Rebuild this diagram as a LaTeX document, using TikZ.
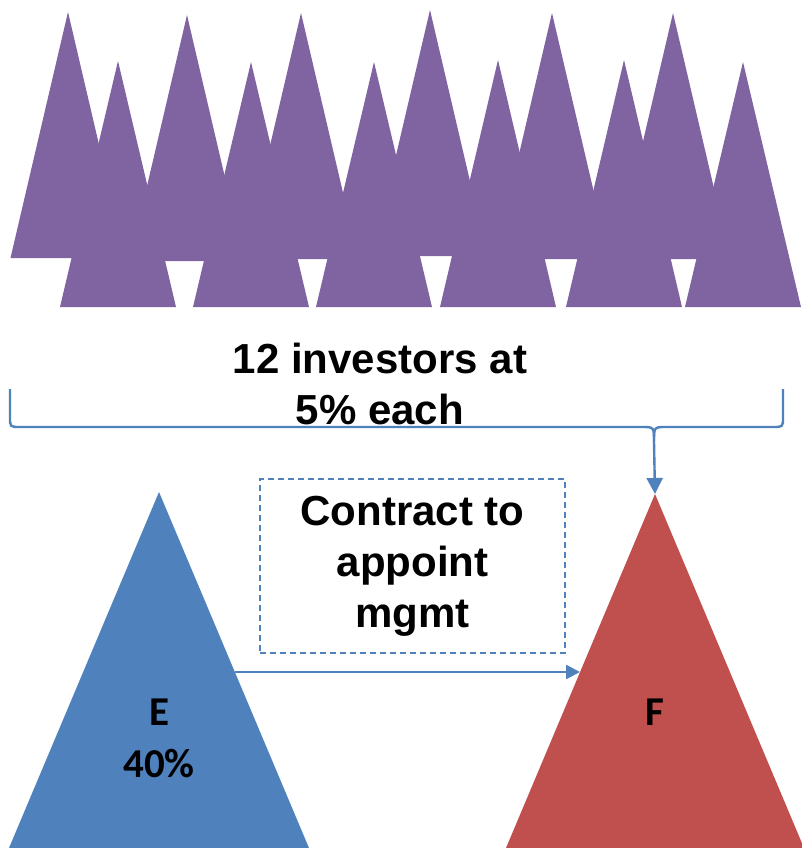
\documentclass[tikz,border=0pt]{standalone}
\usepackage{fontspec}
\setmainfont{Liberation Sans}
\newfontfamily\calib{Carlito}
\usetikzlibrary{arrows.meta}
\definecolor{invpurple}{HTML}{8064A2}
\definecolor{eblue}{HTML}{4F81BD}
\definecolor{fred}{HTML}{C0504D}
\definecolor{linkblue}{HTML}{4F81BD}
\tikzset{
  investor/.style={fill=invpurple},
  bracestyle/.style={draw=linkblue, line width=2.4pt, line join=round},
  linkarrow/.style={draw=linkblue, line width=2.4pt, -{Triangle[length=15pt,width=15pt]}},
  bigtext/.style={font=\bfseries\fontsize{42}{51}\selectfont, align=center, inner sep=0pt},
  triangletext/.style={font=\calib\bfseries\fontsize{41}{52}\selectfont, align=center, inner sep=0pt},
  dashbox/.style={draw=linkblue, dashed, dash pattern=on 6pt off 4pt, line width=1.6pt,
    minimum width=305pt, minimum height=174pt, inner sep=0pt}
}
\begin{document}
\begin{tikzpicture}[x=1pt,y=-1pt]
\useasboundingbox (0,0) rectangle (802,848);
% back row of investors
\foreach \cx/\ty/\by in {68/12/258, 187/15/261, 301/13/259, 430/10/256, 552/13/259, 673/13/259}
  \fill[investor] (\cx-57.5,\by) -- (\cx,\ty) -- (\cx+57.5,\by) -- cycle;
% front row of investors
\foreach \cx/\ty in {118/61, 251/62, 374/62, 498/60, 624/60, 743/62}
  \fill[investor] (\cx-58,307) -- (\cx,\ty) -- (\cx+58,307) -- cycle;
% label
\node[bigtext] (inv) at (380,384) {12 investors at\\5\% each};
% E and F
\fill[eblue] (159,492) -- (309,848) -- (9,848) -- cycle;
\fill[fred] (655,494) -- (804,848) -- (506,848) -- cycle;
\coordinate (Fapex) at (655,494);
\coordinate (Eright) at (235,672);
\coordinate (Fleft) at (580,672);
\node[triangletext] (E) at (159,738) {E\\40\%};
\node[triangletext, anchor=base] (F) at (655,725) {F};
% contract box
\node[dashbox, bigtext] (contract) at (412.5,566) {Contract to\\appoint\\mgmt};
% brace
\coordinate (bracetip) at (654,442);
\draw[bracestyle] (10,389) -- (10,417) .. controls (10,427) .. (20,427) -- (642,427) .. controls (654,427) .. (bracetip);
\draw[bracestyle] (783,389) -- (783,417) .. controls (783,427) .. (773,427) -- (666,427) .. controls (654,427) .. (bracetip);
\draw[linkarrow, -{Triangle[length=16pt,width=16pt]}] (bracetip) -- (Fapex);
% contract arrow
\draw[linkarrow, -{Triangle[length=14pt,width=14pt]}] (Eright) -- (Fleft);
\end{tikzpicture}
\end{document}
